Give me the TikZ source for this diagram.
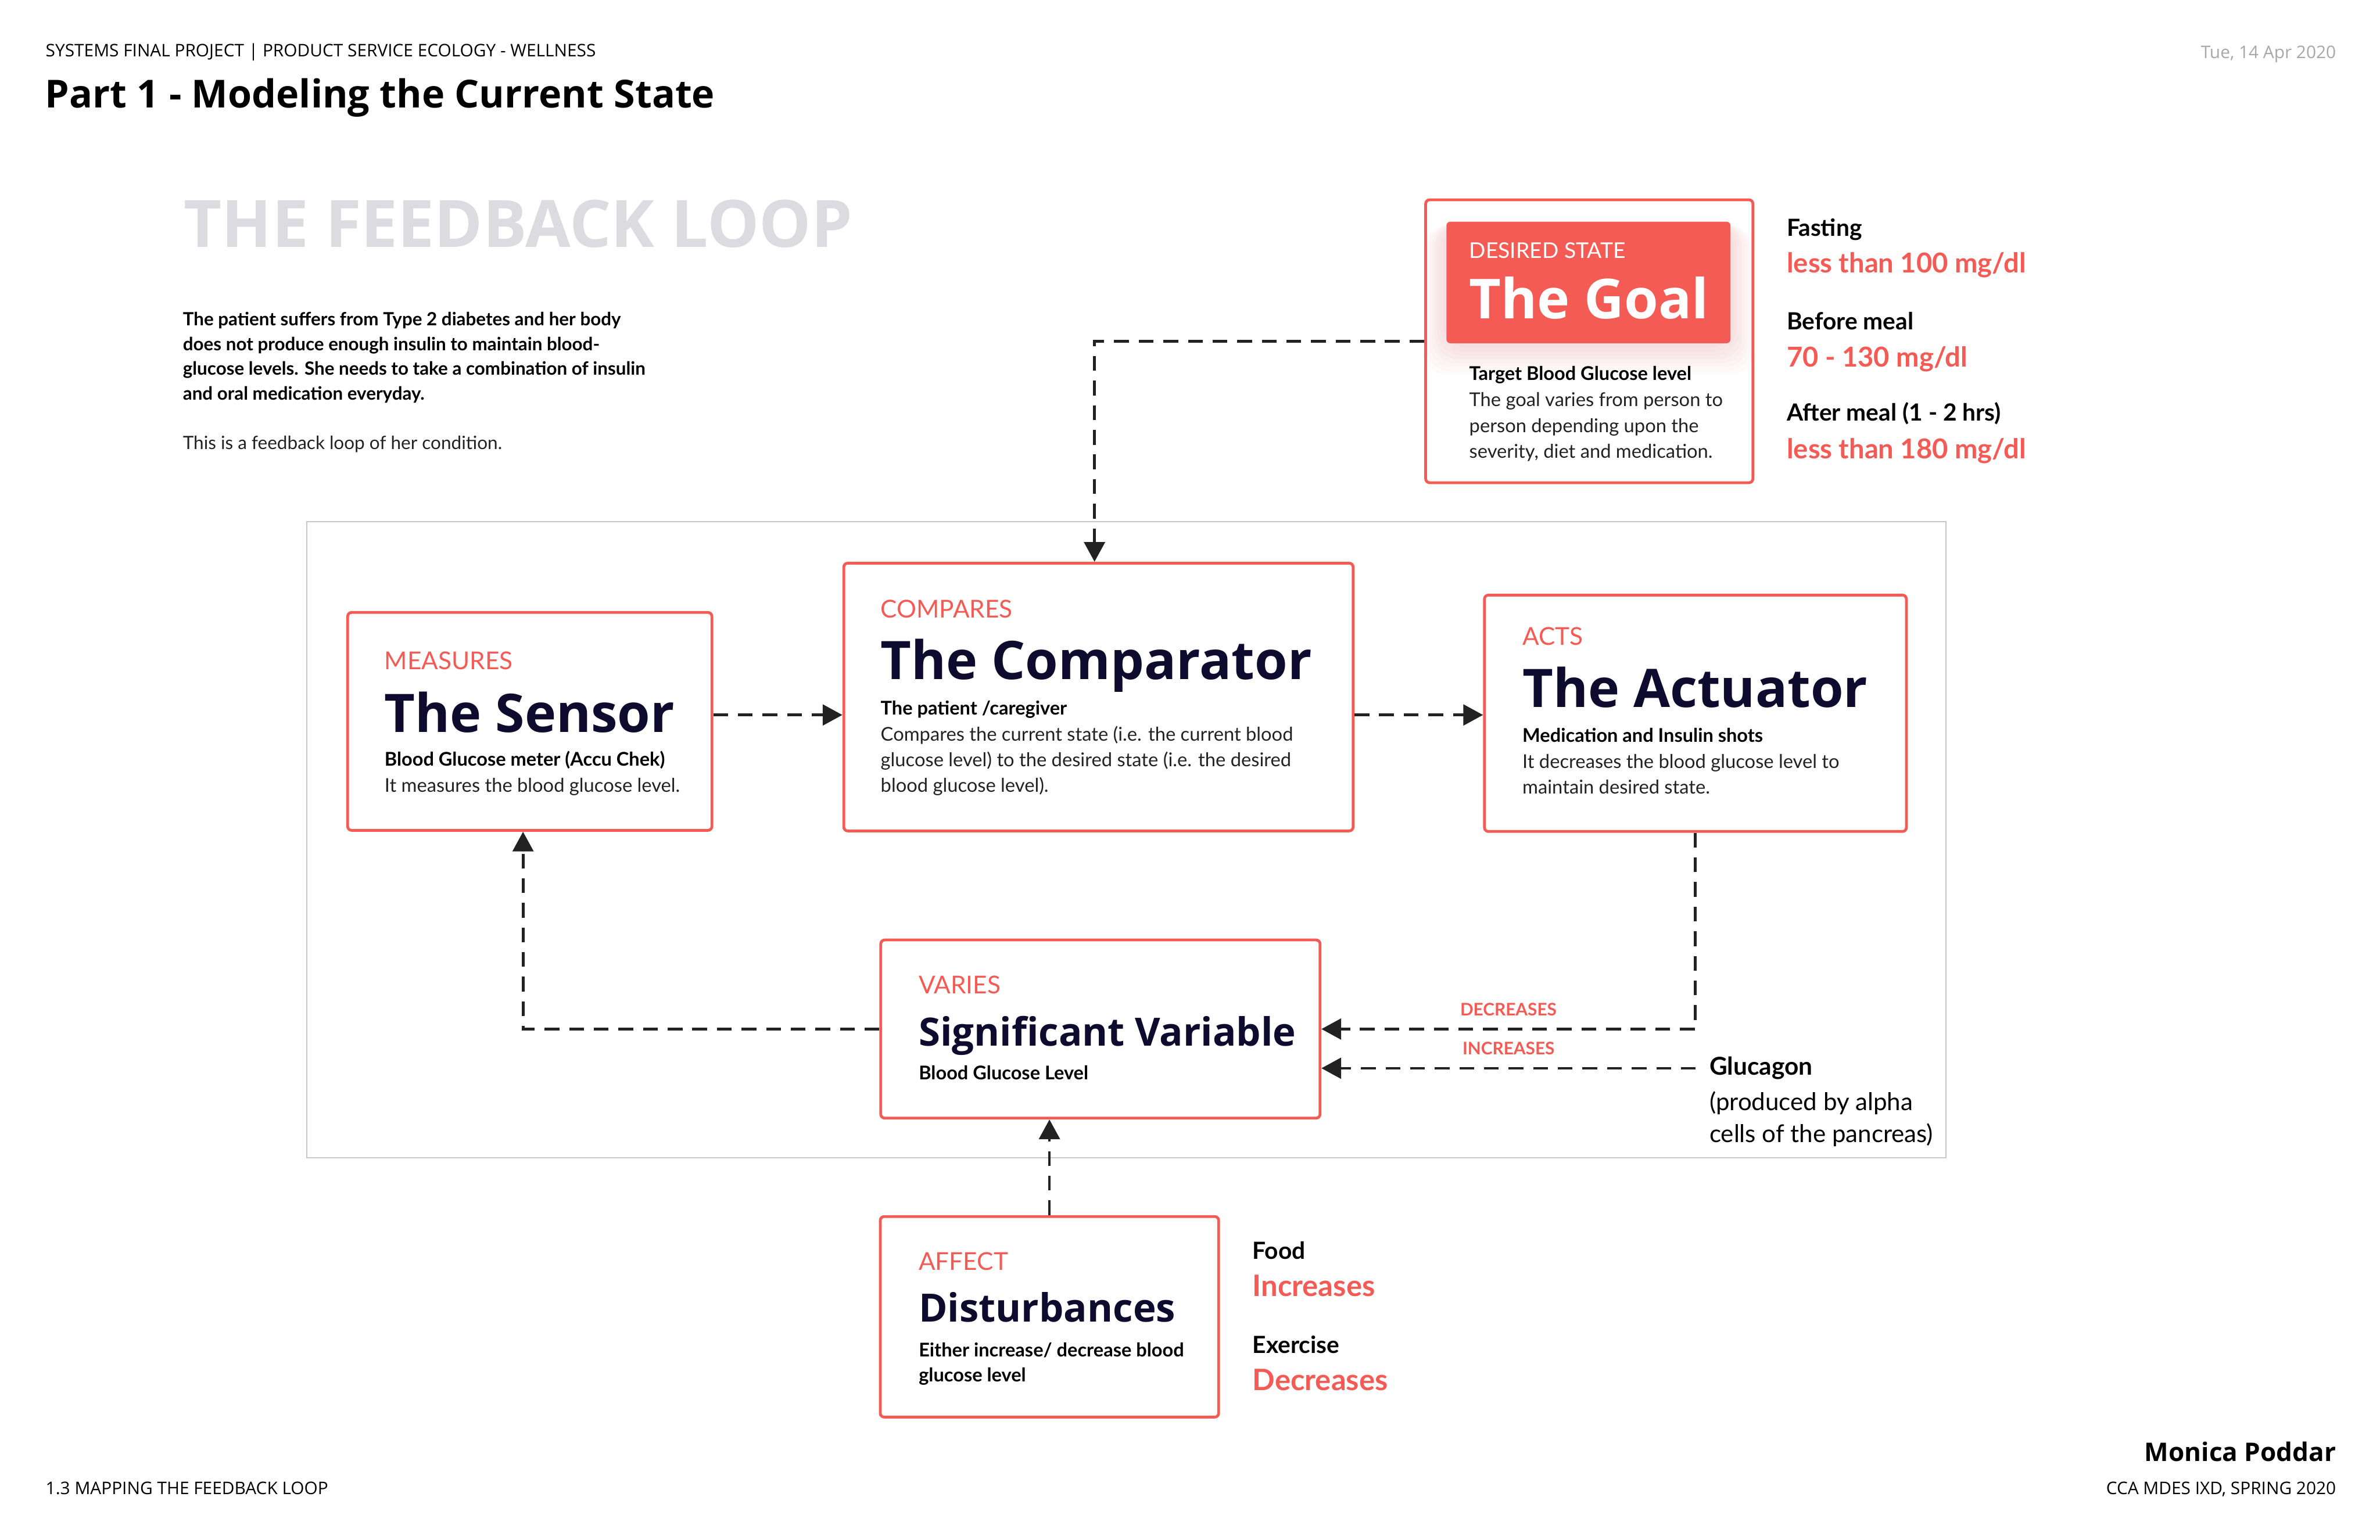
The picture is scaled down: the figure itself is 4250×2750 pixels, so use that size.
\documentclass[tikz,border=0pt]{standalone}
\usepackage{fontspec}
\setmainfont{Lato}
\newfontfamily\headfont{Open Sans}
\usetikzlibrary{arrows.meta,positioning,calc,backgrounds}
\definecolor{loopRed}{HTML}{F45B55}
\definecolor{loopNavy}{HTML}{0E0B2E}
\definecolor{loopInk}{HTML}{222222}
\definecolor{loopGray}{HTML}{DCDCE0}
\definecolor{loopFrame}{HTML}{C8C8C8}
\definecolor{loopDate}{HTML}{A8A8A8}

\begin{document}
\begin{tikzpicture}[x=0.01cm,y=-0.01cm,>={Triangle[length=10pt,width=10.5pt]}]
  \tikzstyle{fbbox}=[draw=loopRed,line width=1.4pt,rounded corners=2pt,fill=white,inner sep=0pt]
  \tikzstyle{tagtext}=[anchor=base west,inner sep=0pt,text=loopRed,font=\fontsize{12.5}{15}\selectfont]
  \tikzstyle{headtext}=[anchor=base west,inner sep=0pt,text=loopNavy,font=\headfont\bfseries\fontsize{27}{32}\selectfont]
  \tikzstyle{subtext}=[anchor=base west,inner sep=0pt,text=black,font=\bfseries\fontsize{9.6}{12}\selectfont]
  \tikzstyle{bodytext}=[anchor=base west,inner sep=0pt,text=loopInk,font=\fontsize{9.65}{12}\selectfont]
  \tikzstyle{sidetext}=[anchor=base west,inner sep=0pt,text=black,font=\bfseries\fontsize{12}{14}\selectfont]
  \tikzstyle{sidevalue}=[anchor=base west,inner sep=0pt,text=loopRed,font=\bfseries\fontsize{13.9}{16}\selectfont]
  \tikzstyle{flowlabel}=[inner sep=0pt,above=6pt,text=loopRed,font=\bfseries\fontsize{8.8}{10}\selectfont]
  \tikzstyle{flow}=[->,draw=loopInk,line width=1.4pt,dash pattern=on 7.5pt off 5pt]
  \useasboundingbox (0,0) rectangle (4250,2750);

  % page header
  \node[anchor=base west,inner sep=0pt,font=\headfont\fontsize{8.8}{10}\selectfont] (header) at (81,101) {SYSTEMS FINAL PROJECT | PRODUCT SERVICE ECOLOGY - WELLNESS};
  \node[anchor=base west,inner sep=0pt,font=\headfont\bfseries\fontsize{19.6}{24}\selectfont] (pagetitle) at (80,192) {Part 1 - Modeling the Current State};
  \node[anchor=base east,inner sep=0pt,text=loopDate,font=\headfont\fontsize{8.8}{10}\selectfont] (date) at (4172,104) {Tue, 14 Apr 2020};

  % intro
  \node[anchor=base west,inner sep=0pt,text=loopGray,font=\headfont\bfseries\fontsize{33.2}{40}\selectfont] (looptitle) at (328,441) {THE FEEDBACK LOOP};
  \foreach \ln [count=\i] in {{The patient suffers from Type 2 diabetes and her body},{does not produce enough insulin to maintain blood-},{glucose levels. She needs to take a combination of insulin},{and oral medication everyday.}}
    \node[subtext,font=\bfseries\fontsize{9.25}{12}\selectfont] (intro\i) at (326,{582+44*(\i-1)}) {\ln};
  \node[bodytext,font=\fontsize{9.3}{12}\selectfont] (introlast) at (326,803) {This is a feedback loop of her condition.};

  % the goal
  \node[draw=loopRed,line width=1.4pt,rounded corners=2pt,minimum width=5.84cm,minimum height=5.05cm] (goal) at (2838,609.5) {};
  \node[fill=loopRed,rounded corners=2pt,minimum width=5.07cm,minimum height=2.17cm] (goalcard) at (2836.5,504.5) {};
  \begin{scope}[on background layer]
    \fill[white] (0,0) rectangle (4250,2750);
    \foreach \k in {1,...,8}
      \fill[loopRed,opacity=0.025,rounded corners=12pt] ($(goalcard.south west)+(-\k*5,\k*7)$) rectangle ($(goalcard.north east)+(\k*5,\k*1)$);
  \end{scope}
  \node[tagtext,text=white,font=\fontsize{11}{13}\selectfont] (goaltag) at (2623,461) {DESIRED STATE};
  \node[headtext,text=white,font=\headfont\bfseries\fontsize{28}{32}\selectfont] (goalhead) at (2623,569) {The Goal};
  \node[subtext] (goalsub) at (2623,679) {Target Blood Glucose level};
  \foreach \ln [count=\i] in {{The goal varies from person to},{person depending upon the},{severity, diet and medication.}}
    \node[bodytext] (goalbody\i) at (2623,{726+46*(\i-1)}) {\ln};

  \node[sidetext] (fasting) at (3190,422) {Fasting};
  \node[sidevalue] (fastingval) at (3190,487) {less than 100 mg/dl};
  \node[sidetext] (before) at (3190,589) {Before meal};
  \node[sidevalue] (beforeval) at (3190,655) {70 - 130 mg/dl};
  \node[sidetext] (after) at (3190,752) {After meal (1 - 2 hrs)};
  \node[sidevalue] (afterval) at (3190,819) {less than 180 mg/dl};

  % loop frame
  \draw[loopFrame,line width=0.7pt] (548,932) rectangle (3475,2068);

  % sensor
  \node[fbbox,minimum width=6.5cm,minimum height=3.89cm] (sensor) at (946,1288.5) {};
  \node[tagtext] (sensortag) at (686,1196) {MEASURES};
  \node[headtext] (sensorhead) at (686,1308) {The Sensor};
  \node[subtext] (sensorsub) at (686,1368) {Blood Glucose meter (Accu Chek)};
  \node[bodytext] (sensorbody) at (686,1415) {It measures the blood glucose level.};

  % comparator
  \node[fbbox,minimum width=9.09cm,minimum height=4.78cm] (comparator) at (1961.5,1245) {};
  \node[tagtext] (comptag) at (1572,1103) {COMPARES};
  \node[headtext] (comphead) at (1572,1213) {The Comparator};
  \node[subtext] (compsub) at (1572,1277) {The patient /caregiver};
  \foreach \ln [count=\i] in {{Compares the current state (i.e. the current blood},{glucose level) to the desired state (i.e. the desired},{blood glucose level).}}
    \node[bodytext] (compbody\i) at (1572,{1323+46*(\i-1)}) {\ln};

  % actuator
  \node[fbbox,minimum width=7.53cm,minimum height=4.22cm] (actuator) at (3027.5,1274) {};
  \node[tagtext] (acttag) at (2718,1152) {ACTS};
  \node[headtext] (acthead) at (2718,1263) {The Actuator};
  \node[subtext] (actsub) at (2718,1325) {Medication and Insulin shots};
  \foreach \ln [count=\i] in {{It decreases the blood glucose level to},{maintain desired state.}}
    \node[bodytext] (actbody\i) at (2718,{1372+46*(\i-1)}) {\ln};

  % significant variable
  \node[fbbox,minimum width=7.84cm,minimum height=3.18cm] (sigvar) at (1965,1838) {};
  \node[tagtext] (sigtag) at (1640,1775) {VARIES};
  \node[headtext,font=\headfont\bfseries\fontsize{19.8}{24}\selectfont] (sighead) at (1640,1868) {Significant Variable};
  \node[subtext] (sigsub) at (1640,1928) {Blood Glucose Level};

  % disturbances
  \node[fbbox,minimum width=6.04cm,minimum height=3.58cm] (disturb) at (1874,2352) {};
  \node[tagtext] (disttag) at (1640,2269) {AFFECT};
  \node[headtext,font=\headfont\bfseries\fontsize{19.8}{24}\selectfont] (disthead) at (1640,2361) {Disturbances};
  \node[subtext] (distsub1) at (1640,2423) {Either increase/ decrease blood};
  \node[subtext] (distsub2) at (1640,2468) {glucose level};

  \node[sidetext] (food) at (2236,2249) {Food};
  \node[sidevalue,font=\bfseries\fontsize{15}{18}\selectfont] (foodval) at (2236,2315) {Increases};
  \node[sidetext] (exercise) at (2236,2417) {Exercise};
  \node[sidevalue,font=\bfseries\fontsize{15}{18}\selectfont] (exerciseval) at (2236,2483) {Decreases};

  % glucagon
  \node[anchor=west,inner xsep=6.8pt,inner ysep=0pt,font=\bfseries\fontsize{12.5}{15}\selectfont] (glucagon) at (3028,1908) {Glucagon};
  \node[anchor=base west,inner sep=0pt,font=\fontsize{12.4}{15}\selectfont] (glucagon2) at (3052,1983) {(produced by alpha};
  \node[anchor=base west,inner sep=0pt,font=\fontsize{12.4}{15}\selectfont] (glucagon3) at (3052,2040) {cells of the pancreas)};

  % connectors
  \coordinate (loopline) at (1390,1277);
  \draw[flow] (goal.west) -| ([xshift=-0.07cm]comparator.north);
  \draw[flow] (sensor.east |- loopline) -- (comparator.west |- loopline);
  \draw[flow] (comparator.east |- loopline) -- (actuator.west |- loopline);
  \draw[flow] (actuator.south) |- (sigvar.east) node[pos=0.75,flowlabel] {DECREASES};
  \draw[flow] (glucagon.west) -- (sigvar.east |- glucagon.west) node[pos=0.5,flowlabel] {INCREASES};
  \draw[flow] (sigvar.west) -| ([xshift=-0.12cm]sensor.south);
  \draw[flow] (disturb.north) -- (sigvar.south -| disturb.north);

  % footer
  \node[anchor=base west,inner sep=0pt,font=\headfont\fontsize{8.8}{10}\selectfont] (footleft) at (81,2669) {1.3 MAPPING THE FEEDBACK LOOP};
  \node[anchor=base east,inner sep=0pt,font=\headfont\bfseries\fontsize{13}{15}\selectfont] (author) at (4172,2610) {Monica Poddar};
  \node[anchor=base east,inner sep=0pt,font=\headfont\fontsize{8.8}{10}\selectfont] (footright) at (4172,2669) {CCA MDES IXD, SPRING 2020};
\end{tikzpicture}
\end{document}
